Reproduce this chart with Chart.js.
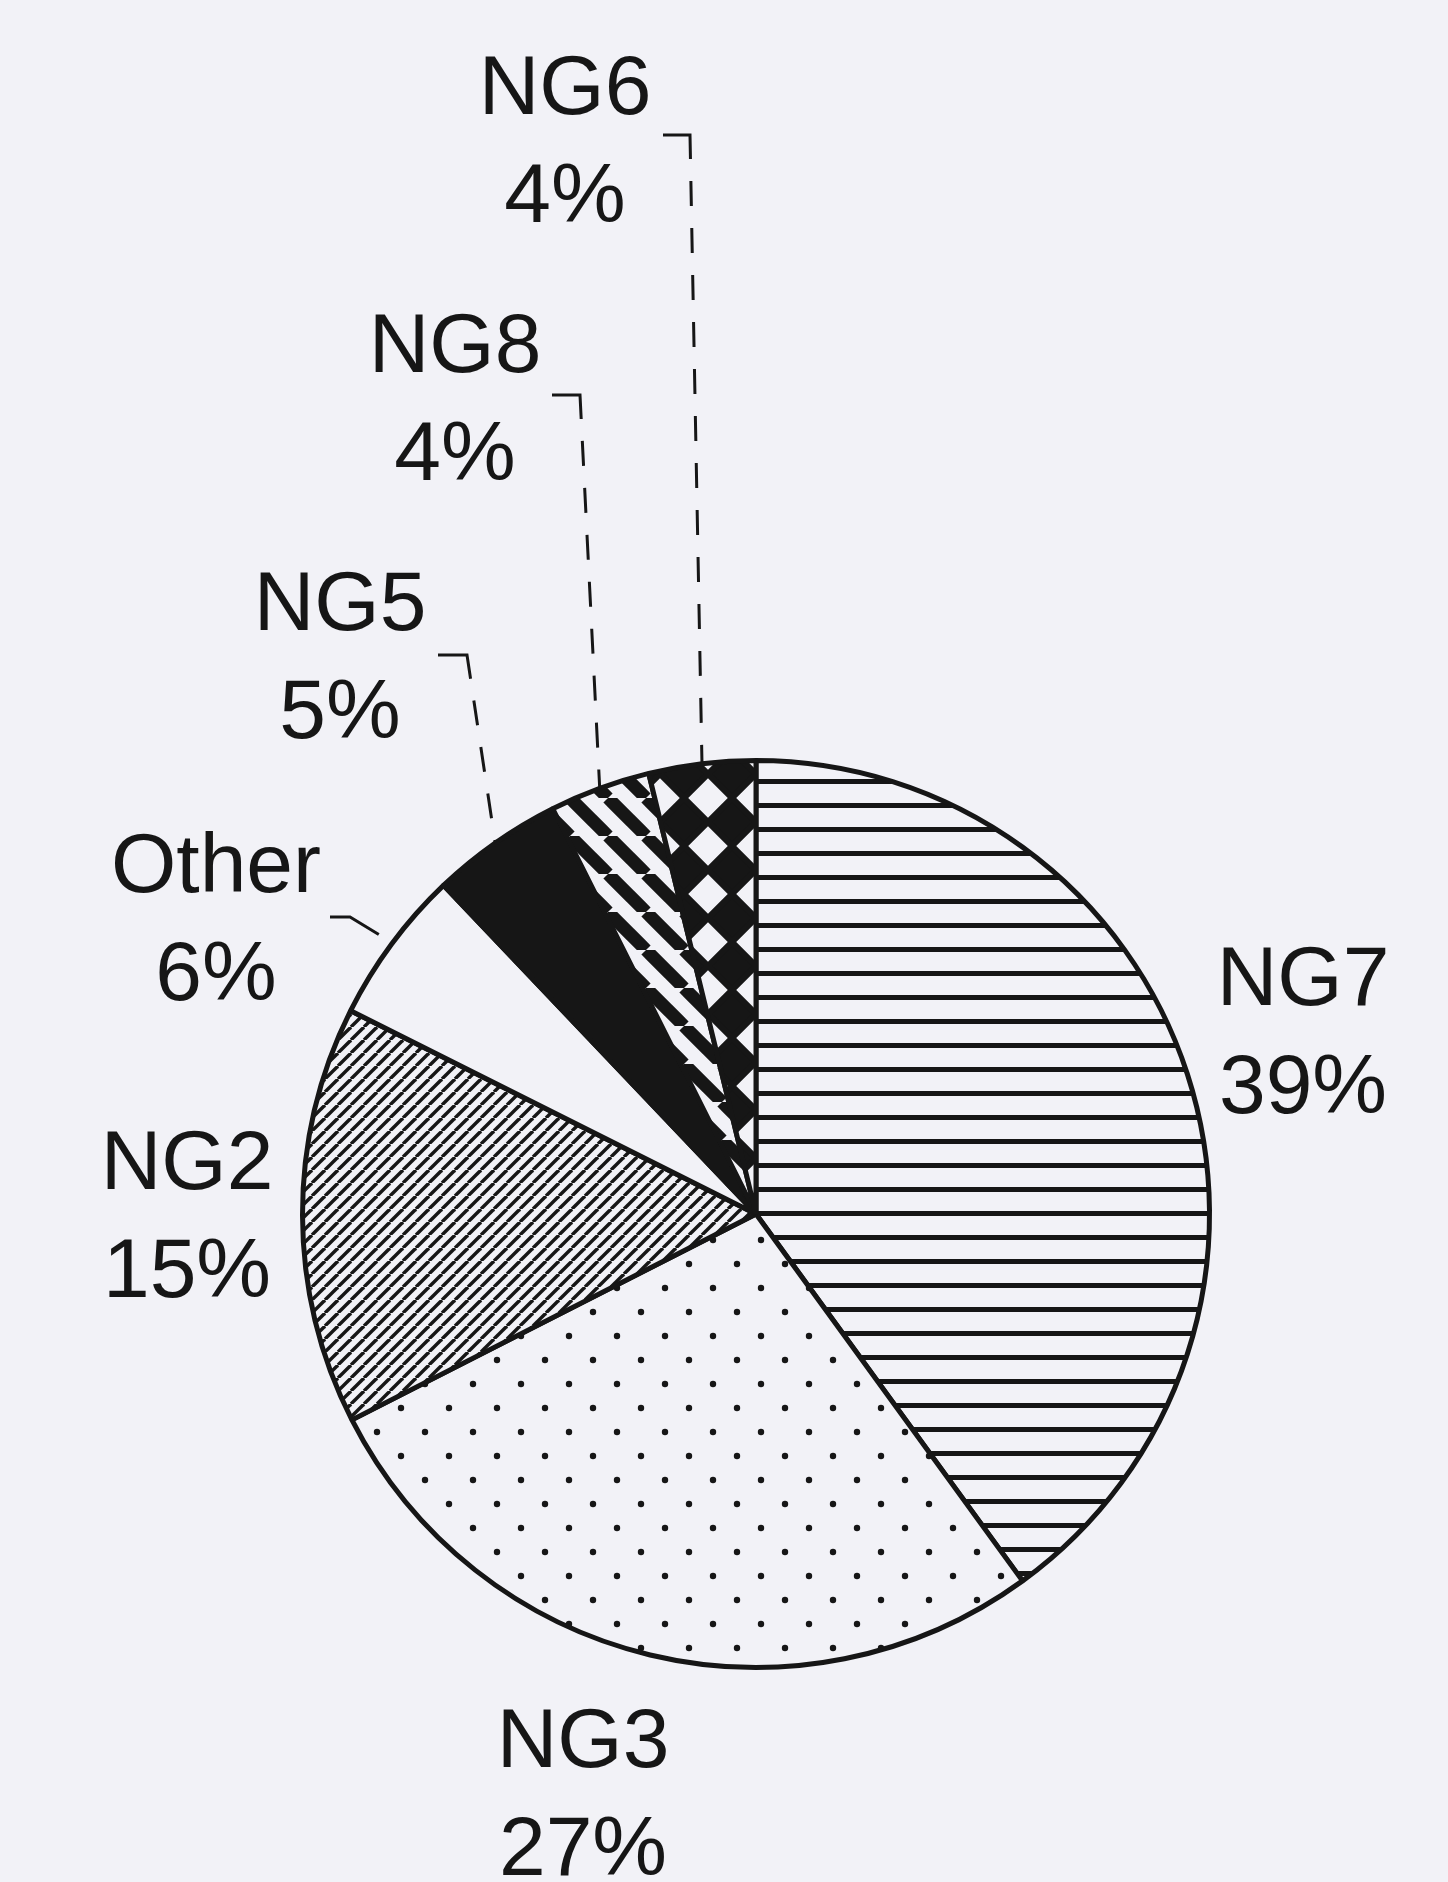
<!DOCTYPE html>
<html>
<head>
<meta charset="utf-8">
<script src="https://cdn.jsdelivr.net/npm/chart.js@4.4.1/dist/chart.umd.min.js"></script>
<style>
  html, body { margin: 0; padding: 0; background: #f2f2f7; }
  #c { display: block; }
</style>
</head>
<body>
<canvas id="c" width="1448" height="1882"></canvas>
<script>
const categories = ['NG7', 'NG3', 'NG2', 'Other', 'NG5', 'NG8', 'NG6'];
const shares     = [40.0, 27.5, 14.9, 5.5, 4.7, 3.6, 3.8];
const pctLabels  = ['39%', '27%', '15%', '6%', '5%', '4%', '4%'];

// ---- Styling / layout (not data) ----
const PAPER = '#f2f2f7';
const INK = '#161616';
const FONT = '84px "Liberation Sans", Arial, sans-serif';
const LINE_GAP = 108;
// label cap-centre positions and leader ticks (page pixels)
const labelLayout = {
  NG7:   { x: 1303, y: 975 },
  NG3:   { x: 583,  y: 1737 },
  NG2:   { x: 187,  y: 1159 },
  Other: { x: 216,  y: 862,  tick: [330, 350, 917], leader: 'solid', extra: 16 },
  NG5:   { x: 340,  y: 600,  tick: [438, 467, 655], leader: 'dashed', extra: 0 },
  NG8:   { x: 455,  y: 342,  tick: [552, 580, 395], leader: 'dashed', extra: 0 },
  NG6:   { x: 565,  y: 84,   tick: [663, 690, 135], leader: 'dashed', extra: 0 }
};

const canvas = document.getElementById('c');
const mainCtx = canvas.getContext('2d');

function makePattern(w, h, draw, shift) {
  const c = document.createElement('canvas');
  c.width = w; c.height = h;
  const g = c.getContext('2d');
  g.fillStyle = PAPER;
  g.fillRect(0, 0, w, h);
  g.fillStyle = INK;
  g.strokeStyle = INK;
  draw(g, w, h);
  const p = mainCtx.createPattern(c, 'repeat');
  if (shift && p.setTransform) p.setTransform(new DOMMatrix().translate(shift[0], shift[1]));
  return p;
}

const patterns = {
  // horizontal lines
  NG7: makePattern(24, 24, (g) => { g.fillRect(0, 11, 24, 5); }),
  // staggered dots
  NG3: makePattern(48, 48, (g) => {
    [[41, 40], [17, 16]].forEach(([x, y]) => { g.beginPath(); g.arc(x, y, 3.2, 0, Math.PI * 2); g.fill(); });
  }),
  // fine upward diagonal
  NG2: makePattern(13, 13, (g, w, h) => {
    g.lineWidth = 3.4;
    for (let k = -1; k <= 1; k++) { g.beginPath(); g.moveTo(k * w, h); g.lineTo(k * w + w, 0); g.stroke(); }
  }),
  Other: PAPER,
  NG5: INK,
  // wide downward diagonal
  NG8: makePattern(38, 38, (g, w, h) => {
    g.lineWidth = 13;
    for (let k = -1; k <= 1; k++) { g.beginPath(); g.moveTo(k * w, 0); g.lineTo(k * w + w, h); g.stroke(); }
  }),
  // diamond checkerboard
  NG6: makePattern(48, 48, (g) => {
    g.beginPath();
    g.moveTo(24, 0); g.lineTo(48, 24); g.lineTo(24, 48); g.lineTo(0, 24); g.closePath();
    g.fill();
    g.lineWidth = 6; g.lineJoin = 'miter'; g.stroke();
  }, [36, 30])
};

const bgPlugin = {
  id: 'paper',
  beforeDraw(chart) {
    const c = chart.ctx;
    c.save();
    c.fillStyle = PAPER;
    c.fillRect(0, 0, chart.width, chart.height);
    c.restore();
  }
};

const labelPlugin = {
  id: 'labels',
  afterDatasetsDraw(chart) {
    const c = chart.ctx;
    const arcs = chart.getDatasetMeta(0).data;
    c.save();
    c.fillStyle = INK;
    c.strokeStyle = INK;
    c.font = FONT;
    c.textAlign = 'center';
    c.textBaseline = 'alphabetic';
    arcs.forEach((arc, i) => {
      const name = categories[i];
      const lay = labelLayout[name];
      const p = arc.getProps(['x', 'y', 'startAngle', 'endAngle', 'outerRadius'], true);
      const mid = (p.startAngle + p.endAngle) / 2;
      c.fillText(name, lay.x, lay.y + 30);
      c.fillText(pctLabels[i], lay.x, lay.y + LINE_GAP + 30);
      if (lay.tick) {
        const r = p.outerRadius + lay.extra;
        const ex = p.x + Math.cos(mid) * r;
        const ey = p.y + Math.sin(mid) * r;
        const [x0, x1, ty] = lay.tick;
        c.lineWidth = 3;
        c.lineCap = 'butt';
        if (lay.leader === 'solid') {
          c.setLineDash([]);
          c.beginPath(); c.moveTo(x0, ty); c.lineTo(x1, ty); c.lineTo(ex, ey); c.stroke();
        } else {
          const dx = ex - x1, dy = ey - ty;
          const len = Math.hypot(dx, dy);
          const ux = dx / len, uy = dy / len;
          c.setLineDash([]);
          c.beginPath(); c.moveTo(x0, ty); c.lineTo(x1, ty); c.lineTo(x1 + ux * 24, ty + uy * 24); c.stroke();
          c.setLineDash([25, 22]);
          c.beginPath(); c.moveTo(x1 + ux * 46, ty + uy * 46); c.lineTo(ex, ey); c.stroke();
          c.setLineDash([]);
        }
      }
    });
    c.restore();
  }
};

new Chart(canvas, {
  type: 'pie',
  data: {
    labels: categories,
    datasets: [{
      data: shares,
      backgroundColor: categories.map(n => patterns[n]),
      borderColor: INK,
      borderWidth: 5,
      hoverOffset: 0
    }]
  },
  options: {
    responsive: false,
    animation: false,
    events: [],
    layout: { padding: { left: 300, right: 236, top: 758, bottom: 212 } },
    plugins: {
      legend: { display: false },
      tooltip: { enabled: false },
      title: { display: false }
    }
  },
  plugins: [bgPlugin, labelPlugin]
});
</script>
</body>
</html>
